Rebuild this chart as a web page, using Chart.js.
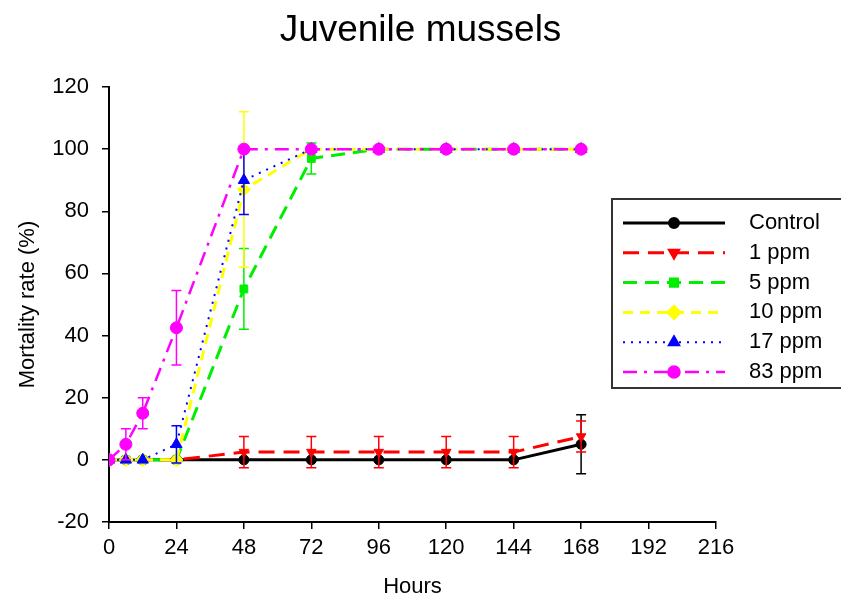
<!DOCTYPE html>
<html>
<head>
<meta charset="utf-8">
<script src="https://cdn.jsdelivr.net/npm/chart.js@4.4.0/dist/chart.umd.min.js"></script>
<style>
html, body { margin: 0; background: #fff; }
#wrap { width: 841px; height: 602px; }
</style>
</head>
<body>
<div id="wrap"><canvas id="myChart"></canvas></div>
<script>
// hours of exposure
var hours = [0, 6, 12, 24, 48, 72, 96, 120, 144, 168];
var seriesNames = ['Control', '1 ppm', '5 ppm', '10 ppm', '17 ppm', '83 ppm'];

// mortality (%) and error bars
var control    = [0, 0, 0, 0, 0, 0, 0, 0, 0, 5];
var controlErr = [0, 0, 0, 0, 0, 0, 0, 0, 0, 9.5];
var ppm1       = [0, 0, 0, 0, 2.5, 2.5, 2.5, 2.5, 2.5, 7.5];
var ppm1Err    = [0, 0, 0, 0, 5, 5, 5, 5, 5, 5];
var ppm5       = [0, 0, 0, 0, 55, 97, 100, 100, 100, 100];
var ppm5Err    = [0, 0, 0, 0, 13, 5, 0, 0, 0, 0];
var ppm10      = [0, 0, 0, 0, 87, 100, 100, 100, 100, 100];
var ppm10Err   = [0, 0, 0, 0, 25, 0, 0, 0, 0, 0];
var ppm17      = [0, 0, 0, 5, 90, 100, 100, 100, 100, 100];
var ppm17Err   = [0, 0, 0, 6, 11, 0, 0, 0, 0, 0];
var ppm83      = [0, 5, 15, 42.5, 100, 100, 100, 100, 100, 100];
var ppm83Err   = [0, 5, 5, 12, 0, 0, 0, 0, 0, 0];

var xTicks = [0, 24, 48, 72, 96, 120, 144, 168, 192, 216];
var yTicks = [-20, 0, 20, 40, 60, 80, 100, 120];

Chart.defaults.font.family = '"Liberation Sans", Arial, sans-serif';
Chart.defaults.color = '#000';

var styles = [
    { color: '#000000', dash: [],            width: 3,   point: 'circle',   rot: 0,   r: 5 },
    { color: '#ff0000', dash: [16, 9],       width: 3,   point: 'triangle', rot: 180, r: 5.5 },
    { color: '#00ee00', dash: [14, 8],       width: 3,   point: 'rect',     rot: 0,   r: 5.5 },
    { color: '#ffff00', dash: [10, 7],       width: 3,   point: 'rectRot',  rot: 0,   r: 6.5 },
    { color: '#0000ff', dash: [2, 6],        width: 2,   point: 'triangle', rot: 0,   r: 6.5 },
    { color: '#ff00ff', dash: [14, 7, 3, 7], width: 2.5, point: 'circle',   rot: 0,   r: 6 }
];
var values = [control, ppm1, ppm5, ppm10, ppm17, ppm83];
var errors = [controlErr, ppm1Err, ppm5Err, ppm10Err, ppm17Err, ppm83Err];

function toPoints(vals) {
    return hours.map(function (h, i) { return { x: h, y: vals[i] }; });
}

var datasets = seriesNames.map(function (name, i) {
    var s = styles[i];
    return {
        label: name,
        data: toPoints(values[i]),
        errors: errors[i],
        borderColor: s.color,
        backgroundColor: s.color,
        borderWidth: s.width,
        borderDash: s.dash,
        pointStyle: s.point,
        pointRotation: s.rot,
        pointRadius: s.r,
        pointBorderWidth: 1,
        tension: 0,
        order: 5 - i
    };
});

// vertical error bars with caps, drawn after each dataset
var errorBars = {
    id: 'errorBars',
    afterDatasetDraw: function (chart, args) {
        var ds = chart.data.datasets[args.index];
        if (!ds.errors) return;
        var ctx = chart.ctx, xs = chart.scales.x, ys = chart.scales.y;
        ctx.save();
        ctx.strokeStyle = ds.borderColor;
        ctx.lineWidth = 1.5;
        ctx.setLineDash([]);
        ds.data.forEach(function (p, i) {
            var e = ds.errors[i];
            if (!e) return;
            var px = xs.getPixelForValue(p.x);
            var top = ys.getPixelForValue(p.y + e);
            var bot = ys.getPixelForValue(p.y - e);
            ctx.beginPath();
            ctx.moveTo(px, top); ctx.lineTo(px, bot);
            ctx.moveTo(px - 5, top); ctx.lineTo(px + 5, top);
            ctx.moveTo(px - 5, bot); ctx.lineTo(px + 5, bot);
            ctx.stroke();
        });
        ctx.restore();
    }
};

// boxed legend with line samples, like the original figure
var legendBox = {
    id: 'legendBox',
    afterDraw: function (chart) {
        var ctx = chart.ctx;
        ctx.save();
        ctx.lineWidth = 2;
        ctx.strokeStyle = '#333';
        ctx.strokeRect(612, 199, 240, 189);
        ctx.font = '22px "Liberation Sans", Arial, sans-serif';
        ctx.textBaseline = 'middle';
        chart.data.datasets.forEach(function (ds, i) {
            var y = 223 + i * 29.8;
            ctx.strokeStyle = ds.borderColor;
            ctx.fillStyle = ds.borderColor;
            ctx.lineWidth = ds.borderWidth;
            ctx.setLineDash(ds.borderDash);
            ctx.beginPath();
            ctx.moveTo(623, y); ctx.lineTo(725, y);
            ctx.stroke();
            ctx.setLineDash([]);
            Chart.helpers.drawPoint(ctx, {
                pointStyle: ds.pointStyle, rotation: ds.pointRotation,
                radius: ds.pointRadius - 0.5, borderWidth: 1
            }, 674, y);
            ctx.fillStyle = '#000';
            ctx.fillText(ds.label, 749, y);
        });
        ctx.restore();
    }
};

var ctx = document.getElementById('myChart').getContext('2d');
var myChart = new Chart(ctx, {
    type: 'line',
    data: { datasets: datasets },
    plugins: [errorBars, legendBox],
    options: {
        responsive: true,
        maintainAspectRatio: false,
        animation: false,
        layout: { padding: 0 },
        scales: {
            x: {
                type: 'linear',
                min: 0,
                max: 216,
                afterBuildTicks: function (s) { s.ticks = xTicks.map(function (v) { return { value: v }; }); },
                afterFit: function (s) { s.height = 80; },
                grid: { drawOnChartArea: false, drawTicks: true, tickLength: 7, color: '#000', lineWidth: 1.5 },
                border: { display: true, color: '#000', width: 2 },
                ticks: { font: { size: 22 }, padding: 6, maxRotation: 0, autoSkip: false },
                title: { display: true, text: 'Hours', font: { size: 22 }, padding: { top: 0, bottom: 2 } }
            },
            y: {
                min: -20,
                max: 120,
                afterBuildTicks: function (s) { s.ticks = yTicks.map(function (v) { return { value: v }; }); },
                afterFit: function (s) { s.width = 109; },
                grid: { drawOnChartArea: false, drawTicks: true, tickLength: 7, color: '#000', lineWidth: 1.5 },
                border: { display: true, color: '#000', width: 2 },
                ticks: { font: { size: 22 }, padding: 13 },
                title: { display: true, text: 'Mortality rate (%)', font: { size: 22 }, padding: { top: 15, bottom: 0 } }
            },
            // empty right-hand axis that only reserves room for the legend
            room: {
                position: 'right',
                min: 0,
                max: 1,
                afterFit: function (s) { s.width = 125; },
                grid: { display: false },
                border: { display: false },
                ticks: { display: false }
            }
        },
        plugins: {
            legend: { display: false },
            tooltip: { enabled: false },
            title: {
                display: true,
                text: 'Juvenile mussels',
                font: { size: 37, weight: 'normal' },
                color: '#000',
                padding: { top: 9, bottom: 33.6 }
            }
        }
    }
});
</script>
</body>
</html>
